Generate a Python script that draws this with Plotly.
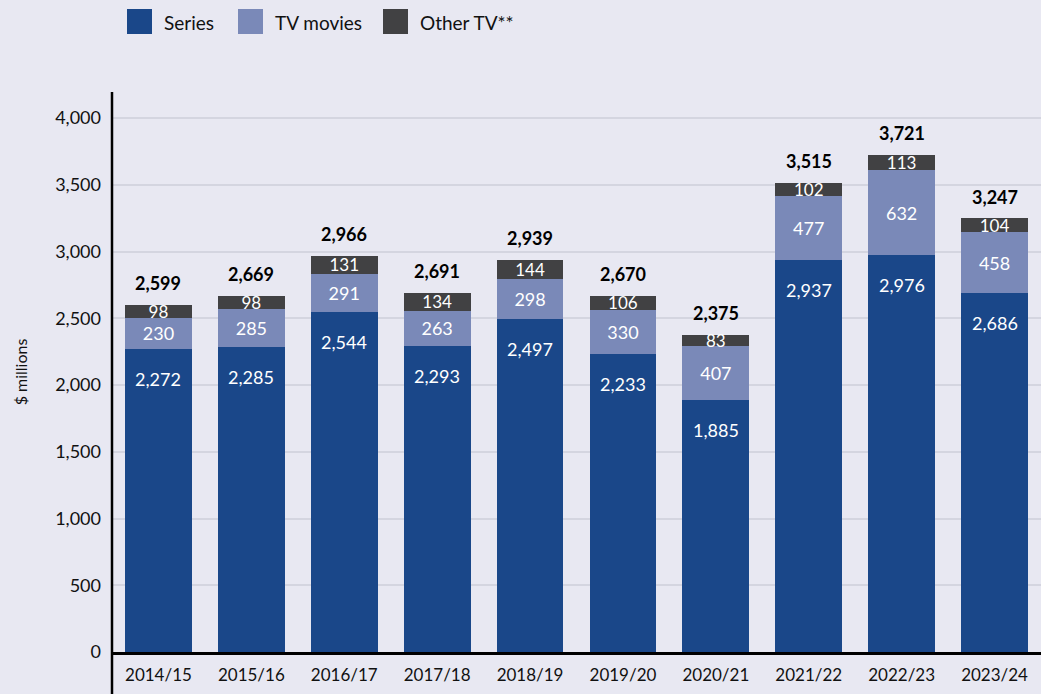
import plotly.graph_objects as go

years = ["2014/15", "2015/16", "2016/17", "2017/18", "2018/19",
         "2019/20", "2020/21", "2021/22", "2022/23", "2023/24"]
series = [2272, 2285, 2544, 2293, 2497, 2233, 1885, 2937, 2976, 2686]
tv_movies = [230, 285, 291, 263, 298, 330, 407, 477, 632, 458]
other_tv = [98, 98, 131, 134, 144, 106, 83, 102, 113, 104]
totals = [2599, 2669, 2966, 2691, 2939, 2670, 2375, 3515, 3721, 3247]

names = ["Series", "TV movies", "Other TV**"]
colors = ["#1a4789", "#7a89b8", "#414143"]
FONT = "Lato, 'Noto Sans', sans-serif"
BG = "#e8e8f2"

fig = go.Figure()
fig.add_trace(go.Bar(x=years, y=series, name=names[0], marker_color=colors[0],
                     marker_line_width=0, showlegend=False))
for name, vals, col, size in zip(names[1:], [tv_movies, other_tv], colors[1:], [18, 17]):
    fig.add_trace(go.Bar(
        x=years, y=vals, name=name, marker_color=col, marker_line_width=0,
        text=vals, texttemplate="%{y:,}", textposition="inside", textangle=0,
        insidetextanchor="middle", constraintext="none",
        textfont={"color": "white", "size": size, "family": FONT},
        showlegend=False,
    ))

annotations = []
# series labels sit near the top of the dark segment
for yr, v in zip(years, series):
    annotations.append(dict(x=yr, y=v, text=f"{v:,}", showarrow=False,
                            yanchor="middle", yshift=-30,
                            font={"size": 18, "color": "white", "family": FONT}))
# bold totals above each stack
for yr, t in zip(years, totals):
    annotations.append(dict(x=yr, y=t, text=f"<b>{t:,}</b>", showarrow=False,
                            yanchor="middle", yshift=22,
                            font={"size": 18, "color": "black", "family": FONT}))

# legend drawn by hand (larger swatches than plotly's)
shapes = []
legend_x = [127, 238, 383]
for lx, name, col in zip(legend_x, names, colors):
    shapes.append(dict(type="rect", xref="paper", yref="paper",
                       x0=(lx - 112) / 929, x1=(lx + 25 - 112) / 929,
                       y0=(652 - 34) / 560, y1=(652 - 9) / 560,
                       fillcolor=col, line_width=0))
    annotations.append(dict(xref="paper", yref="paper", x=(lx + 35 - 112) / 929,
                            y=(652 - 22) / 560, text=name, showarrow=False,
                            xanchor="left", yanchor="middle",
                            font={"size": 19, "color": "#111", "family": FONT}))

# y axis line running below the category labels
shapes.append(dict(type="line", xref="paper", yref="paper", x0=0, x1=0,
                   y0=-0.08, y1=1, line={"color": "black", "width": 2.5}))

fig.update_layout(
    width=1041, height=694,
    margin={"l": 112, "r": 0, "t": 92, "b": 42},
    paper_bgcolor=BG, plot_bgcolor=BG,
    barmode="stack", bargap=0.28,
    font={"family": FONT, "size": 17, "color": "#111"},
    shapes=shapes, annotations=annotations,
    xaxis={"showgrid": False, "showline": True, "linecolor": "black",
           "linewidth": 2.5, "ticks": "", "tickfont": {"size": 17},
           "ticklabelstandoff": 6},
    yaxis={"range": [0, 4195], "tickvals": [0, 500, 1000, 1500, 2000, 2500, 3000, 3500, 4000],
           "tickformat": ",", "gridcolor": "#d4d5e0", "gridwidth": 1.5,
           "showline": False, "zeroline": False, "tickfont": {"size": 18},
           "ticklabelstandoff": 10,
           "title": {"text": "$ millions", "font": {"size": 16}, "standoff": 23}},
)

fig.write_html("out.html", config={"displayModeBar": False},
               post_script="document.body.style.margin='0';")
